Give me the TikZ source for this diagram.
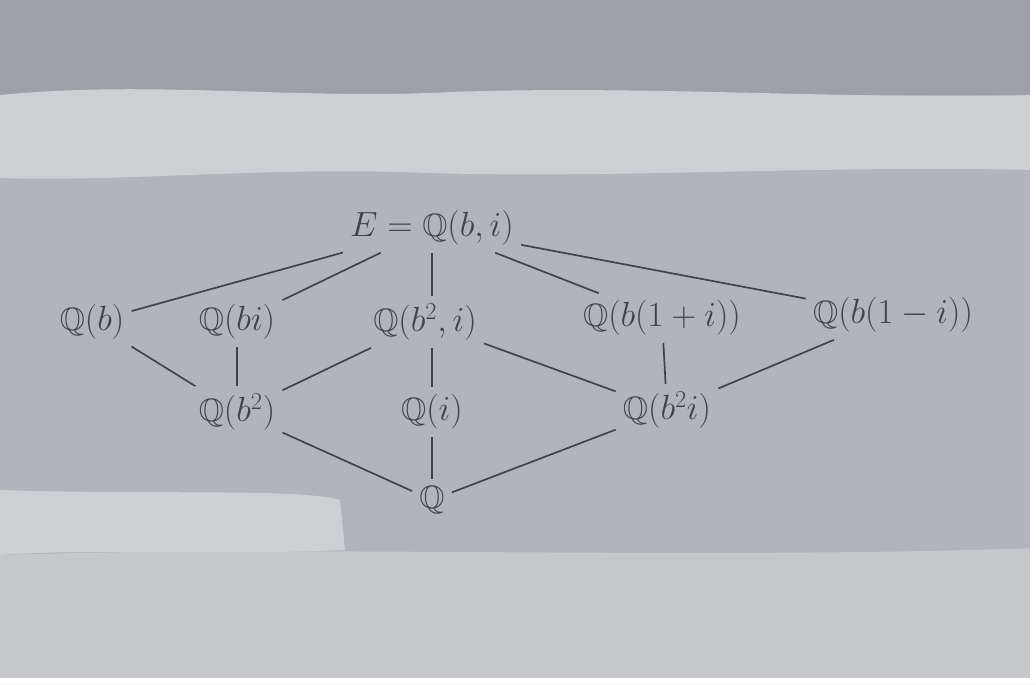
\documentclass[tikz,border=0pt]{standalone}
\usepackage{amssymb}
\definecolor{paper}{RGB}{178,180,188}
\definecolor{topband}{RGB}{158,160,168}
\definecolor{lightband}{RGB}{206,207,210}
\definecolor{bottomband}{RGB}{198,199,202}
\definecolor{ink}{RGB}{66,66,76}
\begin{document}
\begin{tikzpicture}[x=0.025cm,y=-0.025cm,
  field/.style={inner sep=5pt, text=ink, font=\fontsize{23}{26}\selectfont},
  edge/.style={draw=ink, line width=1.2pt}]
\useasboundingbox (0,0) rectangle (1036,684);
% background (photo of paper)
\fill[paper] (0,0) rectangle (1036,684);
\fill[topband] (0,0) rectangle (1036,95);
\fill[lightband] (0,95) .. controls (150,80) and (300,100) .. (450,92)
  .. controls (650,85) and (850,100) .. (1036,95) -- (1036,170)
  .. controls (800,165) and (600,180) .. (400,172)
  .. controls (250,168) and (120,182) .. (0,178) -- cycle;
\fill[bottomband] (0,555) .. controls (300,545) and (700,560) .. (1036,548) -- (1036,684) -- (0,684) -- cycle;
\fill[lightband] (0,490) .. controls (150,495) and (300,488) .. (340,500) -- (345,550) .. controls (200,556) and (100,548) .. (0,555) -- cycle;
\fill[white] (1030,0) rectangle (1036,684);
\fill[white] (0,678) rectangle (1036,684);
% nodes
\node[field] (E)   at (432,228) {$E=\mathbb{Q}(b,i)$};
\node[field] (Qb)  at (92,322)  {$\mathbb{Q}(b)$};
\node[field] (Qbi) at (237,322) {$\mathbb{Q}(bi)$};
\node[field] (Qb2i) at (425,322) {$\mathbb{Q}(b^2,i)$};
\node[field] (Qbp) at (662,318) {$\mathbb{Q}(b(1+i))$};
\node[field] (Qbm) at (893,315) {$\mathbb{Q}(b(1-i))$};
\node[field] (Qbb) at (237,412) {$\mathbb{Q}(b^2)$};
\node[field] (Qi)  at (432,412) {$\mathbb{Q}(i)$};
\node[field] (Qbbi) at (667,410) {$\mathbb{Q}(b^2i)$};
\node[field] (Q)   at (432,500) {$\mathbb{Q}$};
% edges
\draw[edge] (E) -- (Qb);
\draw[edge] (E) -- (Qbi);
\draw[edge] (E.south -| Qi) -- (Qi |- Qb2i.north);
\draw[edge] (E) -- (Qbp);
\draw[edge] (E) -- (Qbm);
\draw[edge] (Qb) -- (Qbb);
\draw[edge] (Qbi) -- (Qbb);
\draw[edge] (Qb2i) -- (Qbb);
\draw[edge] (Qb2i.south -| Qi) -- (Qi);
\draw[edge] (Qb2i) -- (Qbbi);
\draw[edge] (Qbp) -- (Qbbi);
\draw[edge] (Qbm) -- (Qbbi);
\draw[edge] (Qbb) -- (Q);
\draw[edge] (Qi) -- (Q);
\draw[edge] (Qbbi) -- (Q);
\end{tikzpicture}
\end{document}
